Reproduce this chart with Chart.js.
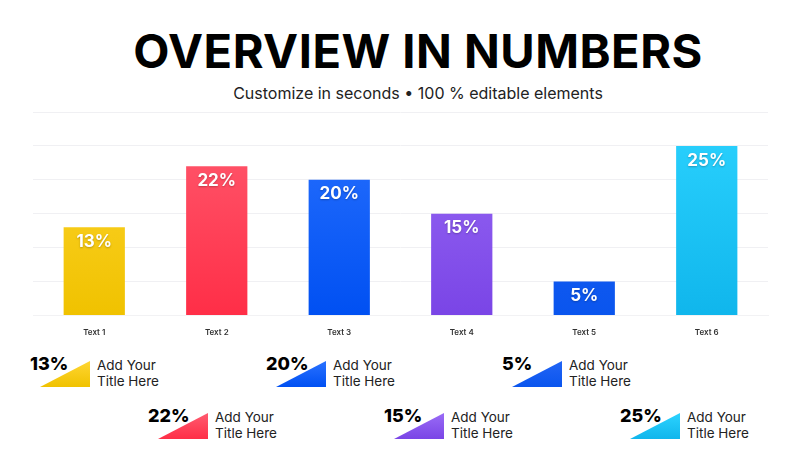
<!DOCTYPE html>
<html>
<head>
<meta charset="utf-8">
<script src="https://cdn.jsdelivr.net/npm/chart.js@4"></script>
<style>
  body { margin: 0; width: 800px; height: 450px; background: #fff; font-family: Inter, "Noto Sans", sans-serif; overflow: hidden; position: relative; }
  h1 { position: absolute; left: 0; width: 836px; top: 22px; margin: 0; text-align: center; font-size: 47px; font-weight: 700; letter-spacing: 0.5px; color: #000; }
  .sub { position: absolute; left: 0; width: 836px; top: 83px; text-align: center; font-size: 16px; color: #222; }
  #wrap { position: absolute; left: 0; top: 105px; width: 800px; height: 236px; }
  .item { position: absolute; width: 170px; height: 40px; }
  .item .val { position: absolute; left: 0; top: 0; font-size: 18px; font-weight: 800; color: #000; z-index: 2; }
  .item .tri { position: absolute; left: 10px; top: 8px; width: 50px; height: 26px; clip-path: polygon(0 100%, 100% 0, 100% 100%); }
  .item .txt { position: absolute; left: 67px; top: 4px; font-size: 13.5px; line-height: 16px; color: #222; }
</style>
</head>
<body>
<h1>OVERVIEW IN NUMBERS</h1>
<div class="sub">Customize in seconds • 100 % editable elements</div>
<div id="wrap"><canvas id="chart"></canvas></div>
<div id="legend"></div>
<script>
const categories = ['Text 1', 'Text 2', 'Text 3', 'Text 4', 'Text 5', 'Text 6'];
const values = [13, 22, 20, 15, 5, 25];
const topColors = ['#FFD633', '#FF5C70', '#2A72FF', '#9A6CF6', '#2265F5', '#2CD3FF'];
const bottomColors = ['#F0C200', '#FF2E47', '#0050F2', '#7A45E6', '#0A55EE', '#10B6EC'];
const itemTitle = ['Add Your', 'Title Here'];

const labelPlugin = {
  id: 'barLabels',
  afterDatasetsDraw(chart) {
    const ctx = chart.ctx;
    chart.getDatasetMeta(0).data.forEach((bar, i) => {
      ctx.save();
      ctx.font = 'bold 17px Inter, "Noto Sans", sans-serif';
      ctx.fillStyle = '#fff';
      ctx.textAlign = 'center';
      ctx.textBaseline = 'top';
      ctx.shadowColor = 'rgba(0,0,0,0.25)';
      ctx.shadowBlur = 2;
      ctx.shadowOffsetY = 1;
      ctx.fillText(values[i] + '%', bar.x, bar.y + 6);
      ctx.restore();
    });
  }
};

new Chart(document.getElementById('chart'), {
  type: 'bar',
  data: {
    labels: categories,
    datasets: [{
      data: values,
      backgroundColor: (c) => {
        const area = c.chart.chartArea;
        if (!area) return topColors[c.dataIndex];
        const bar = c.chart.getDatasetMeta(0).data[c.dataIndex];
        const top = bar && bar.y ? bar.y : area.top;
        const g = c.chart.ctx.createLinearGradient(0, top, 0, area.bottom);
        g.addColorStop(0, topColors[c.dataIndex]);
        g.addColorStop(1, bottomColors[c.dataIndex]);
        return g;
      },
      barPercentage: 0.5,
      categoryPercentage: 1
    }]
  },
  options: {
    responsive: true,
    maintainAspectRatio: false,
    animation: false,
    layout: { padding: { left: 33, right: 32, top: 7, bottom: 0 } },
    plugins: { legend: { display: false }, tooltip: { enabled: false } },
    scales: {
      x: {
        grid: { display: false },
        border: { color: '#f2f2f4' },
        ticks: { color: '#333', font: { size: 8, weight: '600', family: 'Inter' }, padding: 4 }
      },
      y: {
        min: 0, max: 30,
        ticks: { display: false, stepSize: 5 },
        grid: { color: '#f0f0f3', drawTicks: false },
        border: { display: false }
      }
    }
  },
  plugins: [labelPlugin]
});

// bottom legend items, alternating rows
const legend = document.getElementById('legend');
values.forEach((v, i) => {
  const d = document.createElement('div');
  d.className = 'item';
  d.style.left = (30 + i * 118) + 'px';
  d.style.top = (i % 2 === 0 ? 353 : 405) + 'px';
  d.innerHTML = '<div class="val">' + v + '%</div>' +
    '<div class="tri" style="background:linear-gradient(' + topColors[i] + ',' + bottomColors[i] + ')"></div>' +
    '<div class="txt">' + itemTitle[0] + '<br>' + itemTitle[1] + '</div>';
  legend.appendChild(d);
});
</script>
</body>
</html>
